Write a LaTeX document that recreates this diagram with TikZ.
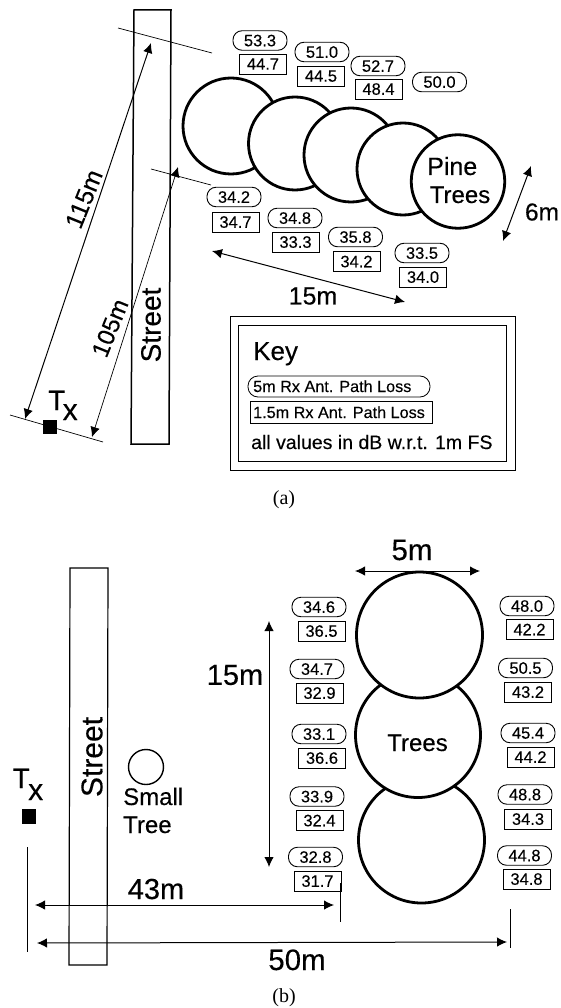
\documentclass[tikz,border=0pt]{standalone}
\usepackage{fontspec}
\setmainfont{Liberation Sans}[FakeBold=0.25]
\newfontfamily\capfont{Liberation Serif}
\usetikzlibrary{arrows.meta}
\newcommand{\fsz}[1]{\fontsize{#1}{#1}\selectfont}
\tikzset{
  x=1pt,y=-1pt,
  treeA/.style={circle,draw,fill=white,line width=2.8pt,inner sep=0pt},
  ov/.style={draw,rounded corners=9pt,line width=0.9pt,minimum width=54pt,minimum height=19.5pt,inner sep=0pt,font=\fsz{16.5},text depth=0pt},
  rc/.style={draw,line width=0.9pt,minimum width=47pt,minimum height=20pt,inner sep=0pt,font=\fsz{16.5},text depth=0pt},
  dim/.style={line width=1pt,{Latex[length=10pt,width=9.5pt]}-{Latex[length=10pt,width=9.5pt]}},
  thin line/.style={line width=0.7pt},
  txt/.style={inner sep=0pt,text=black},
  street/.style={draw,line width=1.2pt},
  txsq/.style={fill=black,inner sep=0pt,minimum size=14pt},
}
\begin{document}
\begin{tikzpicture}
\useasboundingbox (0,0) rectangle (560,1008);
% ---------- part (a)
\coordinate (sa1) at (134,10);\coordinate (sa2) at (171,10);
\coordinate (sa3) at (169,444);\coordinate (sa4) at (131,444);
\draw[street,line width=1.5pt] (sa1) -- (sa2) -- (sa3) -- (sa4) -- cycle;
\node[txt,rotate=90,font=\fsz{28}] (streetA) at (151,325) {Street};
\coordinate (la1) at (118,28);\coordinate (la2) at (212,53);
\coordinate (lb1) at (151,169);\coordinate (lb2) at (211,185);
\coordinate (lc1) at (10,415);\coordinate (lc2) at (103,442);
\draw[thin line] (la1) -- (la2);
\draw[thin line] (lb1) -- (lb2);
\draw[thin line] (lc1) -- (lc2);
\node[txsq] (txA) at (50,427) {};
\node[txt,anchor=base west,font=\fsz{28}] (tA) at (48,410) {T};
\node[txt,anchor=base west,font=\fsz{30}] (xA) at (62.5,420) {x};
\coordinate (a115t) at (151,43);\coordinate (a115b) at (25,419);
\coordinate (a105t) at (178,167);\coordinate (a105b) at (92,437);
\draw[dim] (a115b) -- (a115t);
\draw[dim,line width=0.7pt] (a105b) -- (a105t);
\node[txt,rotate=68,font=\fsz{25}] (d115) at (84,199) {115m};
\node[txt,rotate=68,font=\fsz{24}] (d105) at (110,328) {105m};
% trees
\node[treeA,minimum size=96pt] (pt1) at (231,126) {};
\node[treeA,minimum size=93pt] (pt2) at (295,143.5) {};
\node[treeA,minimum size=94pt] (pt3) at (351,155) {};
\node[treeA,minimum size=92pt] (pt4) at (403,169) {};
\node[treeA,minimum size=93.5pt] (pt5) at (458,181.5) {};
\node[txt,anchor=base west,font=\fsz{25}] (pine) at (427,175) {Pine};
\node[txt,anchor=base,font=\fsz{24}] (trA) at (460,203) {Trees};
\coordinate (a6t) at (531,166);\coordinate (a6b) at (503,241);
\draw[dim] (a6b) -- (a6t);
\node[txt,font=\fsz{24.5}] (d6) at (542,212) {6m};
% labels (a)
\node[ov] (o1) at (260,40.5) {53.3};\node[rc] (r1) at (263,64) {44.7};
\node[ov] (o2) at (322,52) {51.0};\node[rc] (r2) at (321,76) {44.5};
\node[ov] (o3) at (378,66) {52.7};\node[rc] (r3) at (378.5,89) {48.4};
\node[ov] (o4) at (439.5,82) {50.0};
\node[ov] (o5) at (234,197) {34.2};\node[rc] (r5) at (235.5,222) {34.7};
\node[ov] (o6) at (295,218) {34.8};\node[rc] (r6) at (295.5,242) {33.3};
\node[ov] (o7) at (355.5,237) {35.8};\node[rc] (r7) at (356.5,261.5) {34.2};
\node[ov] (o8) at (422,253) {33.5};\node[rc] (r8) at (423,277) {34.0};
\coordinate (a15l) at (212,251);\coordinate (a15r) at (405,302);
\draw[dim] (a15l) -- (a15r);
\node[txt,font=\fsz{25}] (d15a) at (313,296) {15m};
% key
\node[draw,line width=1pt,minimum width=285pt,minimum height=154pt,inner sep=0pt] (keyO) at (372.5,393) {};
\node[draw,line width=1pt,minimum width=268pt,minimum height=136pt,inner sep=0pt] (keyI) at (372,393) {};
\node[txt,anchor=base west,font=\fsz{26}] (keyT) at (253,360) {Key};
\node[draw,rounded corners=10pt,line width=0.8pt,minimum width=182pt,minimum height=21pt,inner sep=0pt] (keyOv) at (339,386.5) {};
\node[txt,anchor=base west,font=\fsz{16.2}] at (253,392) {5m Rx Ant. Path Loss};
\node[draw,line width=0.8pt,minimum width=182pt,minimum height=22pt,inner sep=0pt] (keyRc) at (341,412) {};
\node[txt,anchor=base west,font=\fsz{16.2}] at (253,418) {1.5m Rx Ant. Path Loss};
\node[txt,anchor=base west,font=\fsz{19.5}] (keyN) at (251,449) {all values in dB w.r.t. 1m FS};
\node[txt,font=\capfont\fsz{20}] (capA) at (284,500) {(a)};
% ---------- part (b)
\coordinate (sb1) at (70,568);\coordinate (sb2) at (108,568);
\coordinate (sb3) at (107,965);\coordinate (sb4) at (69,965);
\draw[street] (sb1) -- (sb2) -- (sb3) -- (sb4) -- cycle;
\node[txt,rotate=90,font=\fsz{30}] (streetB) at (92,757) {Street};
\node[txsq,minimum size=14.5pt] (txB) at (29,816.5) {};
\node[txt,anchor=base west,font=\fsz{28}] (tB) at (12.5,788) {T};
\node[txt,anchor=base west,font=\fsz{30}] (xB) at (28,800) {x};
\node[circle,draw,line width=1.4pt,minimum size=35pt,inner sep=0pt] (small) at (146,767) {};
\node[txt,anchor=base west,font=\fsz{24}] (smT) at (123,805) {Small};
\node[txt,anchor=base west,font=\fsz{24}] (smU) at (123,833) {Tree};
\coordinate (v15t) at (269,621);\coordinate (v15b) at (269,867);
\draw[dim] (v15t) -- (v15b);
\node[txt,font=\fsz{29}] (d15b) at (235,675) {15m};
\node[treeA,minimum size=126pt] (bt3) at (421.5,840) {};
\node[treeA,minimum size=125pt] (bt2) at (418,735) {};
\node[treeA,minimum size=126pt] (bt1) at (419.5,635) {};
\node[txt,anchor=base,font=\fsz{24}] (trB) at (417.5,751) {Trees};
\coordinate (a5l) at (355,571);\coordinate (a5r) at (480,571);
\draw[dim] (a5l) -- (a5r);
\node[txt,font=\fsz{29.5}] (d5) at (412,550) {5m};
% labels (b)
\node[ov] (p1) at (319,607) {34.6};\node[rc] (q1) at (321.5,631) {36.5};
\node[ov] (p2) at (317,669) {34.7};\node[rc] (q2) at (319.5,693) {32.9};
\node[ov] (p3) at (319,734) {33.1};\node[rc] (q3) at (322,758) {36.6};
\node[ov] (p4) at (317,796.5) {33.9};\node[rc] (q4) at (319.5,820.5) {32.4};
\node[ov] (p5) at (315.5,857) {32.8};\node[rc] (q5) at (317.5,881) {31.7};
\node[ov] (s1) at (527,606) {48.0};\node[rc] (t1) at (529.5,629.5) {42.2};
\node[ov] (s2) at (525.5,668) {50.5};\node[rc] (t2) at (528,692) {43.2};
\node[ov] (s3) at (528,733) {45.4};\node[rc] (t3) at (530.5,757) {44.2};
\node[ov] (s4) at (525,794.5) {48.8};\node[rc] (t4) at (528,819) {34.3};
\node[ov] (s5) at (524.5,855.5) {44.8};\node[rc] (t5) at (526.5,879) {34.8};
% dimension lines
\coordinate (tkl1) at (27,847);\coordinate (tkl2) at (27,952);
\coordinate (tkm1) at (340,883);\coordinate (tkm2) at (340,922);
\coordinate (tkr1) at (510,909);\coordinate (tkr2) at (510,948);
\draw[thin line] (tkl1) -- (tkl2);
\draw[thin line] (tkm1) -- (tkm2);
\draw[thin line] (tkr1) -- (tkr2);
\coordinate (a43l) at (35,905);\coordinate (a43r) at (334,905);
\coordinate (a50l) at (37,943);\coordinate (a50r) at (507,942);
\draw[dim] (a43l) -- (a43r);
\draw[dim] (a50l) -- (a50r);
\node[txt,anchor=base,font=\fsz{29}] (d43) at (156,899) {43m};
\node[txt,anchor=base,font=\fsz{29.5}] (d50) at (297,970) {50m};
\node[txt,font=\capfont\fsz{20}] (capB) at (284,998) {(b)};
\end{tikzpicture}
\end{document}
